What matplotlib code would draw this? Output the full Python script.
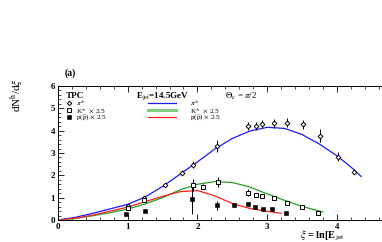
import matplotlib
matplotlib.use("Agg")
import matplotlib.pyplot as plt
from matplotlib.ticker import MultipleLocator

plt.rcParams['font.family'] = ['Liberation Serif', 'DejaVu Serif']
plt.rcParams['mathtext.fontset'] = 'stix'

# pion data
pi_xi = [1.0, 1.24, 1.535, 1.775, 1.93, 2.28, 2.73, 2.84, 2.92, 3.1, 3.28, 3.51, 3.76, 4.02, 4.25]
pi_val = [0.64, 0.98, 1.57, 2.12, 2.47, 3.3, 4.22, 4.22, 4.3, 4.33, 4.36, 4.28, 3.78, 2.84, 2.16]
pi_err = [0.08, 0.1, 0.1, 0.12, 0.15, 0.26, 0.19, 0.19, 0.19, 0.19, 0.19, 0.19, 0.3, 0.2, 0.12]

# kaon data (x2.5)
k_xi = [1.0, 1.24, 1.93, 2.08, 2.29, 2.73, 2.84, 2.92, 3.1, 3.29, 3.5, 3.73]
k_val = [0.53, 0.9, 1.57, 1.49, 1.72, 1.22, 1.12, 1.07, 0.97, 0.78, 0.6, 0.33]
k_err = [0.06, 0.08, 0.25, 0.12, 0.22, 0.15, 0.08, 0.08, 0.05, 0.04, 0.04, 0.04]

# proton data (x2.5)
p_xi = [0.98, 1.25, 1.92, 2.28, 2.53, 2.73, 2.83, 2.94, 3.07, 3.27]
p_val = [0.28, 0.42, 0.95, 0.65, 0.65, 0.7, 0.56, 0.48, 0.48, 0.31]
p_err = [0.03, 0.04, 0.7, 0.22, 0.05, 0.05, 0.04, 0.04, 0.05, 0.03]

# theory curves
pi_c_xi = [0.0, 0.25, 0.5, 0.75, 1.0, 1.25, 1.5, 1.75, 2.0, 2.25, 2.5, 2.75, 3.0, 3.25, 3.5, 3.75, 4.0, 4.2, 4.35]
pi_c_val = [0.0, 0.12, 0.3, 0.5, 0.7, 1.03, 1.5, 2.05, 2.6, 3.18, 3.65, 3.98, 4.15, 4.1, 3.83, 3.4, 2.88, 2.38, 1.95]

k_c_xi = [0.0, 0.25, 0.5, 0.75, 1.0, 1.25, 1.5, 1.75, 2.0, 2.25, 2.5, 2.75, 3.0, 3.25, 3.5, 3.8]
k_c_val = [0.0, 0.07, 0.19, 0.33, 0.49, 0.72, 1.0, 1.35, 1.6, 1.72, 1.68, 1.48, 1.17, 0.88, 0.61, 0.36]

p_c_xi = [0.0, 0.25, 0.5, 0.75, 1.0, 1.25, 1.5, 1.75, 2.0, 2.25, 2.5, 2.75, 3.0, 3.2]
p_c_val = [0.0, 0.08, 0.22, 0.4, 0.58, 0.82, 1.06, 1.27, 1.32, 1.08, 0.74, 0.52, 0.39, 0.3]

legend_labels = [r'$\pi^{\pm}$', r'K$^{\pm}$  $\times$ 2.5', r'p($\bar{\rm p}$) $\times$ 2.5']

BLUE, GREEN, RED = '#1a1aff', '#22a022', '#ff2020'

fig = plt.figure(figsize=(3.82, 2.42), dpi=100)
L, B, W, H = 58, 22, 348.5, 134
ax = fig.add_axes([L/382, B/242, W/382, H/242])
ax.set_xlim(0, 5)
ax.set_ylim(0, 6)

ax.plot(pi_c_xi, pi_c_val, color=BLUE, lw=0.9)
ax.plot(k_c_xi, k_c_val, color=GREEN, lw=0.9)
ax.plot(p_c_xi, p_c_val, color=RED, lw=0.9)

ekw = dict(ecolor='black', elinewidth=0.7, capsize=0, ls='none')
ax.errorbar(pi_xi, pi_val, yerr=pi_err, marker='D', ms=2.4, mfc='white', mec='black', mew=0.7, **ekw)
ax.errorbar(k_xi, k_val, yerr=k_err, marker='s', ms=2.6, mfc='white', mec='black', mew=0.7, **ekw)
ax.errorbar(p_xi, p_val, yerr=p_err, marker='s', ms=2.4, mfc='black', mec='black', mew=0.4, **ekw)

ax.xaxis.set_major_locator(MultipleLocator(1))
ax.xaxis.set_minor_locator(MultipleLocator(0.2))
ax.yaxis.set_major_locator(MultipleLocator(1))
ax.yaxis.set_minor_locator(MultipleLocator(0.2))
ax.tick_params(which='both', direction='in', top=True, right=True, labelsize=6.5, pad=2)
ax.tick_params(which='major', length=4, width=0.6)
ax.tick_params(which='minor', length=2, width=0.5)
for lab in ax.get_xticklabels() + ax.get_yticklabels():
    lab.set_fontweight('bold')
for s in ax.spines.values():
    s.set_linewidth(0.7)

# legend drawn by hand in axes fractions
def fx(px):
    return (px - L) / W

def fy(py):
    return (220 - py) / H

rows = [103.5, 110.5, 117.5]
mk = [dict(marker='D', ms=2.2, mfc='white', mec='black', mew=0.7),
      dict(marker='s', ms=2.6, mfc='white', mec='black', mew=0.7),
      dict(marker='s', ms=2.4, mfc='black', mec='black', mew=0.4)]
cols = [(BLUE, 0.9), ('#7fcf7f', 2.2), (RED, 0.9)]
for i, r in enumerate(rows):
    ax.plot([fx(69)], [fy(r)], transform=ax.transAxes, clip_on=False, ls='none', **mk[i])
    ax.text(fx(76), fy(r), legend_labels[i], transform=ax.transAxes, fontsize=5.2, va='center')
    c, lw = cols[i]
    ax.plot([fx(148), fx(176)], [fy(r), fy(r)], transform=ax.transAxes, color=c, lw=lw)
    ax.text(fx(190), fy(r), legend_labels[i], transform=ax.transAxes, fontsize=5.2, va='center')

ax.text(fx(66), fy(96), 'TPC', transform=ax.transAxes, fontsize=6.5, fontweight='bold', va='center')
ax.text(fx(136), fy(96), r'E$_{\rm jet}$=14.5GeV', transform=ax.transAxes, fontsize=6.5,
        fontweight='bold', va='center')
ax.text(fx(225), fy(96), r'$\Theta_{\rm c}$ = $\pi$/2', transform=ax.transAxes, fontsize=6.5,
        va='center')

fig.text(65/382, 1 - 73/242, '(a)', fontsize=7, fontweight='bold', va='center')
fig.text(17/382, 1 - 95/242, r'dN$^{\rm h}$/d$\xi$', rotation=90, fontsize=8,
         va='center', ha='center')
fig.text(300/382, 1 - 235.5/242, r'$\xi$ = ln[E$_{\rm jet}$', fontsize=7.5, fontweight='bold',
         va='center')

fig.savefig('out.png', dpi=100)
